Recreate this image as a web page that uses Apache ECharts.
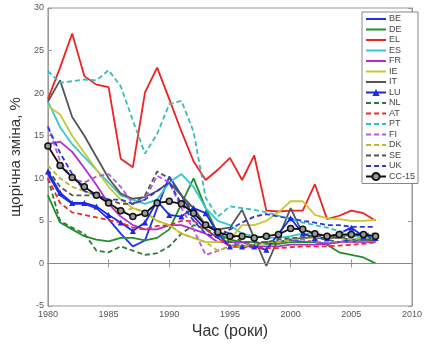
<!DOCTYPE html>
<html><head><meta charset="utf-8">
<script src="https://cdn.jsdelivr.net/npm/echarts@6/dist/echarts.min.js"></script>
<style>html,body{margin:0;padding:0;background:#fff}#c{width:425px;height:345px}</style>
</head><body><div id="c"></div>
<script>
const years = [1980,1981,1982,1983,1984,1985,1986,1987,1988,1989,1990,1991,1992,1993,1994,1995,1996,1997,1998,1999,2000,2001,2002,2003,2004,2005,2006,2007];
const BE = [10.5,8.0,7.0,7.0,6.5,5.2,3.5,2.0,2.7,6.5,10.2,8.0,5.5,4.0,3.0,2.0,2.0,2.2,2.5,2.5,2.8,2.5,2.5,2.3,2.5,2.8,2.8,2.8];
const DE = [8.0,4.8,4.0,3.2,2.8,2.6,3.0,3.0,2.7,3.0,4.0,7.0,10.0,6.5,3.5,2.8,2.5,2.5,2.3,2.3,2.5,2.5,2.5,2.2,1.3,1.0,0.7,0.0];
const EL = [19.3,23.0,27.0,22.0,21.0,20.7,12.3,11.3,20.1,23.0,19.3,15.5,12.0,9.8,11.0,12.4,9.8,12.7,6.2,6.1,6.2,6.2,9.3,5.2,5.6,6.2,5.9,5.0];
const ES = [19.0,16.0,14.0,12.5,11.0,9.5,8.0,7.5,7.0,7.5,9.5,10.5,9.0,6.5,5.0,4.5,3.5,3.2,3.0,3.0,3.2,3.5,3.5,3.2,3.2,3.3,3.0,2.8];
const FR = [14.0,14.3,13.1,11.2,9.2,7.0,5.5,4.5,4.0,4.0,4.5,4.5,4.0,3.5,2.5,2.5,2.5,2.0,2.0,2.0,2.2,2.2,2.2,2.3,2.5,2.5,2.5,2.5];
const IE = [18.5,17.5,15.0,13.0,11.0,9.0,7.5,6.5,6.0,5.0,4.5,3.5,3.0,2.5,2.5,2.8,4.5,4.5,5.0,6.0,7.3,7.3,5.7,5.3,5.2,5.0,5.0,5.1];
const IT = [19.0,21.5,17.2,15.0,12.5,10.0,8.2,7.6,7.8,8.5,9.5,8.0,6.5,4.5,4.0,4.2,6.3,3.0,-0.3,3.0,6.5,3.5,3.0,3.0,3.0,2.8,2.8,2.7];
const LU = [10.8,8.3,7.1,7.1,6.7,5.7,4.8,3.8,4.8,7.3,5.7,5.5,6.5,5.9,3.5,2.0,2.0,2.0,1.6,3.5,5.3,3.5,3.0,3.0,3.5,4.2,3.2,3.0];
const NL = [10.0,5.0,4.2,3.5,1.5,1.3,2.0,1.5,1.0,1.2,2.0,3.5,4.5,4.0,3.5,2.5,2.0,2.2,2.5,2.5,2.8,3.0,3.0,2.8,2.5,2.5,2.8,3.0];
const AT = [10.0,7.1,6.0,5.7,5.4,5.1,4.8,4.2,4.0,4.4,4.5,5.0,5.0,4.0,3.0,2.0,1.9,1.9,1.8,1.8,1.9,2.0,2.0,2.0,2.1,2.2,2.3,2.5];
const PT = [22.6,21.2,21.4,21.6,21.5,22.7,20.8,16.8,12.9,15.2,18.7,19.1,15.5,7.7,5.5,6.7,6.5,6.3,6.0,5.6,5.2,4.8,4.5,4.2,3.8,3.5,3.3,3.2];
const FI = [16.2,12.0,10.0,9.5,10.2,10.5,9.0,7.0,7.5,10.3,9.5,6.5,4.0,1.0,1.5,2.0,2.5,2.2,2.5,2.5,2.8,2.8,2.5,2.5,2.5,2.5,2.5,2.6];
const DK = [11.5,10.0,9.0,8.5,8.0,7.0,6.0,6.5,6.0,5.0,4.5,3.5,3.0,2.5,1.5,2.0,2.0,2.2,2.5,2.5,2.8,3.0,3.0,3.2,3.0,2.8,3.0,3.0];
const SE = [11.0,9.0,8.0,8.0,8.0,7.5,7.0,7.0,8.0,10.8,10.0,8.0,6.0,4.5,4.0,3.5,2.5,2.5,2.5,2.8,3.0,3.0,3.2,3.2,3.0,3.2,3.5,3.5];
const UK = [16.0,13.0,10.5,8.5,8.0,7.5,7.5,7.0,7.5,8.5,9.5,7.0,5.0,3.5,3.0,4.0,4.8,5.5,5.8,5.5,5.3,5.0,4.8,4.5,4.5,4.3,4.3,4.3];
const CC15 = [13.8,11.5,10.1,9.0,8.0,7.1,6.2,5.5,5.9,7.1,7.3,7.0,5.9,4.5,3.7,3.2,3.2,3.0,3.2,3.4,4.1,4.0,3.5,3.2,3.4,3.4,3.4,3.2];
const xTicks = [1980,1985,1990,1995,2000,2005,2010];
const yTicks = [-5,0,5,10,15,20,25,30];

const dash = [5,3];
const defs = [
  ['BE', BE, '#2233ee', 'solid'],
  ['DE', DE, '#1f8f2a', 'solid'],
  ['EL', EL, '#ee2222', 'solid'],
  ['ES', ES, '#33c8cc', 'solid'],
  ['FR', FR, '#b62ad0', 'solid'],
  ['IE', IE, '#c8c836', 'solid'],
  ['IT', IT, '#555555', 'solid'],
  ['LU', LU, '#1a2ae6', 'solid'],
  ['NL', NL, '#2f7a38', dash],
  ['AT', AT, '#ee2a2a', dash],
  ['PT', PT, '#36bdbb', dash],
  ['FI', FI, '#b45ae0', dash],
  ['DK', DK, '#bcbc26', dash],
  ['SE', SE, '#555555', dash],
  ['UK', UK, '#2a3ad6', dash],
  ['CC-15', CC15, '#111111', 'solid']
];
const marked = {LU: 1, 'CC-15': 1};
const series = defs.map(([name, vals, color, type]) => {
  const s = {
    name, type: 'line', data: years.map((y, i) => [y, vals[i]]),
    lineStyle: {color, width: 1.8, type},
    itemStyle: {color},
    symbol: 'none', animation: false, z: 3
  };
  if (name === 'LU') { s.symbol = 'triangle'; s.symbolSize = 6; s.showSymbol = true; }
  if (name === 'CC-15') {
    s.symbol = 'circle'; s.symbolSize = 6;
    s.itemStyle = {color: '#999', borderColor: '#111', borderWidth: 1.5};
    s.z = 5;
    s.markLine = {silent: true, symbol: 'none', label: {show: false}, animation: false,
      lineStyle: {color: '#888', width: 1, type: 'solid'}, data: [{yAxis: 0}]};
  }
  return s;
});

const chart = echarts.init(document.getElementById('c'), null, {renderer: 'canvas'});
const tickLbl = {fontSize: 9, color: '#555', fontFamily: 'Liberation Sans'};
chart.setOption({
  backgroundColor: '#fff',
  textStyle: {fontFamily: 'Liberation Sans'},
  grid: {left: 37, right: 8, top: 8, bottom: 36, show: true, borderColor: '#999', borderWidth: 1},
  legend: {
    orient: 'vertical', left: 362, top: 12, itemWidth: 20, itemHeight: 9, itemGap: 0.5,
    padding: [2, 3, 2, 3], borderColor: '#888', borderWidth: 1, backgroundColor: '#fff',
    textStyle: {fontSize: 9, lineHeight: 10, color: '#444', padding: [0,0,0,-2]},
    data: defs.map(d => marked[d[0]] ? {name: d[0]} : {name: d[0], itemStyle: {opacity: 0}})
  },
  xAxis: [{
    type: 'value', min: xTicks[0], max: xTicks[xTicks.length-1], interval: 5,
    axisLine: {show: true, lineStyle: {color: '#999'}}, splitLine: {show: false},
    axisTick: {inside: true, length: 4, lineStyle: {color: '#999'}},
    axisLabel: Object.assign({margin: 4, formatter: v => String(v)}, tickLbl),
    name: 'Час (роки)', nameLocation: 'middle', nameGap: 18,
    nameTextStyle: {fontSize: 16, color: '#333'}
  }, {
    type: 'value', position: 'top', min: xTicks[0], max: xTicks[xTicks.length-1], interval: 5,
    axisLine: {show: true, lineStyle: {color: '#999'}}, splitLine: {show: false},
    axisTick: {inside: true, length: 4, lineStyle: {color: '#999'}}, axisLabel: {show: false}
  }],
  yAxis: [{
    type: 'value', min: yTicks[0], max: yTicks[yTicks.length-1], interval: 5,
    axisLine: {show: true, lineStyle: {color: '#999'}}, splitLine: {show: false},
    axisTick: {inside: true, length: 4, lineStyle: {color: '#999'}},
    axisLabel: Object.assign({margin: 4}, tickLbl),
    name: 'щорічна зміна, %', nameLocation: 'middle', nameGap: 18,
    nameTextStyle: {fontSize: 15, color: '#333'}
  }, {
    type: 'value', position: 'right', min: yTicks[0], max: yTicks[yTicks.length-1], interval: 5,
    axisLine: {show: true, lineStyle: {color: '#999'}}, splitLine: {show: false},
    axisTick: {inside: true, length: 4, lineStyle: {color: '#999'}}, axisLabel: {show: false}
  }],
  series
});
</script></body></html>
